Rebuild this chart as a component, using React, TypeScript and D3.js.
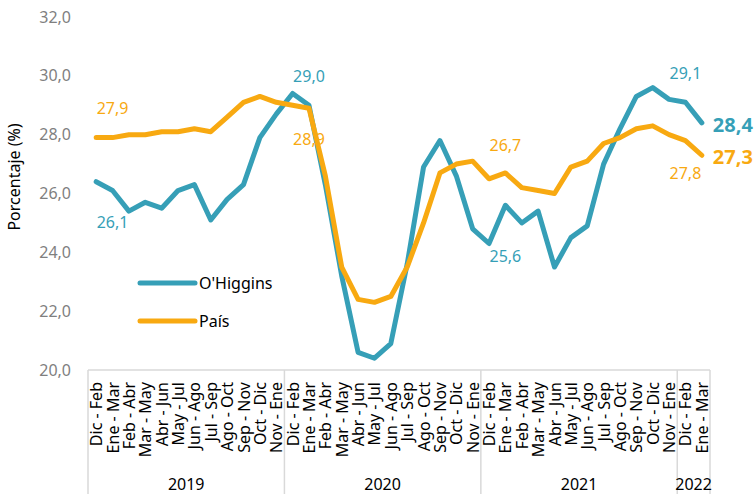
import React from "react";
import * as d3 from "d3";

const periods = [
  "Dic - Feb", "Ene - Mar", "Feb - Abr", "Mar - May", "Abr - Jun", "May - Jul",
  "Jun - Ago", "Jul - Sep", "Ago - Oct", "Sep - Nov", "Oct - Dic", "Nov - Ene",
  "Dic - Feb", "Ene - Mar", "Feb - Abr", "Mar - May", "Abr - Jun", "May - Jul",
  "Jun - Ago", "Jul - Sep", "Ago - Oct", "Sep - Nov", "Oct - Dic", "Nov - Ene",
  "Dic - Feb", "Ene - Mar", "Feb - Abr", "Mar - May", "Abr - Jun", "May - Jul",
  "Jun - Ago", "Jul - Sep", "Ago - Oct", "Sep - Nov", "Oct - Dic", "Nov - Ene",
  "Dic - Feb", "Ene - Mar",
];
const years = ["2019", "2020", "2021", "2022"];
const yearCounts = [12, 12, 12, 2];

const oHiggins = [26.4, 26.1, 25.4, 25.7, 25.5, 26.1, 26.3, 25.1, 25.8, 26.3, 27.9, 28.7,
  29.4, 29.0, 26.3, 23.2, 20.6, 20.4, 20.9, 23.6, 26.9, 27.8, 26.6, 24.8,
  24.3, 25.6, 25.0, 25.4, 23.5, 24.5, 24.9, 27.0, 28.2, 29.3, 29.6, 29.2,
  29.1, 28.4];
const pais = [27.9, 27.9, 28.0, 28.0, 28.1, 28.1, 28.2, 28.1, 28.6, 29.1, 29.3, 29.1,
  29.0, 28.9, 26.6, 23.5, 22.4, 22.3, 22.5, 23.5, 25.0, 26.7, 27.0, 27.1,
  26.5, 26.7, 26.2, 26.1, 26.0, 26.9, 27.1, 27.7, 27.9, 28.2, 28.3, 28.0,
  27.8, 27.3];
const yTicks = [20, 22, 24, 26, 28, 30, 32];

const TEAL = "#369FB7";
const ORANGE = "#F8A911";
const FONT = "'Noto Sans', 'Open Sans', sans-serif";

const fmt = (v: number) => v.toFixed(1).replace(".", ",");

export default function App() {
  const W = 756, H = 494;
  const left = 88, right = 710, top = 17, bottom = 370;
  const idx = periods.map((_, i) => i);
  const x = d3.scaleBand<number>().domain(idx).range([left, right]).padding(0);
  const cx = (i: number) => (x(i) as number) + x.bandwidth() / 2;
  const y = d3.scaleLinear().domain([20, 32]).range([bottom, top]);

  const line = d3.line<number>().x((_, i) => cx(i)).y((d) => y(d));

  const bounds: number[] = [0];
  yearCounts.forEach((c, k) => bounds.push(bounds[k] + c));
  const bx = (k: number) => (k >= periods.length ? right : (x(k) as number));

  const labels = [
    { s: pais, i: 1, dy: -29, c: ORANGE },
    { s: oHiggins, i: 1, dy: 32, c: TEAL },
    { s: oHiggins, i: 13, dy: -29, c: TEAL },
    { s: pais, i: 13, dy: 31, c: ORANGE },
    { s: pais, i: 25, dy: -28, c: ORANGE },
    { s: oHiggins, i: 25, dy: 51, c: TEAL },
    { s: oHiggins, i: 36, dy: -29, c: TEAL },
    { s: pais, i: 36, dy: 33, c: ORANGE },
  ];
  const last = periods.length - 1;

  return (
    <svg width={W} height={H} viewBox={`0 0 ${W} ${H}`}
      style={{ position: "absolute", left: 0, top: 0, background: "#fff" }}
      fontFamily={FONT}>
      {yTicks.map((t) => (
        <text key={t} x={71} y={y(t)} dy="0.35em" textAnchor="end" fontSize={16} fill="#7F7F7F">
          {fmt(t)}
        </text>
      ))}
      <text transform={`translate(20,177) rotate(-90)`} textAnchor="middle" fontSize={16} fill="#000">
        Porcentaje (%)
      </text>

      <line x1={left} x2={right} y1={bottom} y2={bottom} stroke="#D9D9D9" strokeWidth={1.5} />
      {bounds.map((b, k) => (
        <line key={k} x1={bx(b)} x2={bx(b)} y1={bottom} y2={H} stroke="#D9D9D9" strokeWidth={1.5} />
      ))}
      {periods.map((p, i) => (
        <text key={i} transform={`translate(${cx(i) + 6},${bottom + 12}) rotate(-90)`}
          textAnchor="end" fontSize={16} fill="#000">
          {p}
        </text>
      ))}
      {years.map((yr, k) => (
        <text key={yr} x={(bx(bounds[k]) + bx(bounds[k + 1])) / 2} y={490}
          textAnchor="middle" fontSize={16} fill="#000">
          {yr}
        </text>
      ))}

      <path d={line(oHiggins) || ""} fill="none" stroke={TEAL} strokeWidth={5}
        strokeLinejoin="round" strokeLinecap="round" />
      <path d={line(pais) || ""} fill="none" stroke={ORANGE} strokeWidth={5}
        strokeLinejoin="round" strokeLinecap="round" />

      {labels.map((l, k) => (
        <text key={k} x={cx(l.i)} y={y(l.s[l.i]) + l.dy} dy="0.35em" textAnchor="middle"
          fontSize={16} fill={l.c}>
          {fmt(l.s[l.i])}
        </text>
      ))}
      <text x={cx(last) + 11} y={y(oHiggins[last]) + 2} dy="0.35em" fontSize={20}
        fontWeight="bold" fill={TEAL}>
        {fmt(oHiggins[last])}
      </text>
      <text x={cx(last) + 11} y={y(pais[last]) + 2} dy="0.35em" fontSize={20}
        fontWeight="bold" fill={ORANGE}>
        {fmt(pais[last])}
      </text>

      <line x1={140} x2={195} y1={283} y2={283} stroke={TEAL} strokeWidth={5} strokeLinecap="round" />
      <text x={199} y={283} dy="0.35em" fontSize={16} fill="#000">O'Higgins</text>
      <line x1={140} x2={195} y1={321} y2={321} stroke={ORANGE} strokeWidth={5} strokeLinecap="round" />
      <text x={199} y={321} dy="0.35em" fontSize={16} fill="#000">País</text>
    </svg>
  );
}
